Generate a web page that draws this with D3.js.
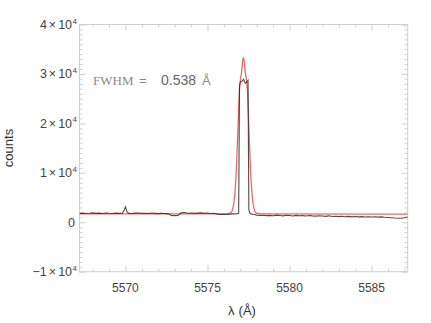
<!DOCTYPE html>
<html><head><meta charset="utf-8">
<script src="https://cdn.jsdelivr.net/npm/d3@7"></script>
<style>body{margin:0;background:#fff}svg{display:block}</style>
</head><body>
<script>
// ---- data ----
const obsLambda = [5567.2,5567.4,5567.6,5567.8,5568.0,5568.2,5568.4,5568.6,5568.8,5569.0,5569.2,5569.4,5569.6,5569.8,5569.9,5570.0,5570.1,5570.2,5570.4,5570.6,5570.8,5571.0,5571.2,5571.4,5571.6,5571.8,5572.0,5572.2,5572.4,5572.6,5572.8,5573.0,5573.2,5573.4,5573.6,5573.8,5574.0,5574.2,5574.4,5574.6,5574.8,5575.0,5575.2,5575.4,5575.6,5575.8,5576.0,5576.2,5576.4,5576.6,5576.8,5576.9,5576.95,5577.0,5577.1,5577.2,5577.3,5577.4,5577.47,5577.52,5577.6,5577.7,5577.8,5578.0,5578.2,5578.4,5578.6,5578.8,5579.0,5579.2,5579.4,5579.6,5579.8,5580.0,5580.2,5580.4,5580.6,5580.8,5581.0,5581.2,5581.4,5581.6,5581.8,5582.0,5582.2,5582.4,5582.6,5582.8,5583.0,5583.2,5583.4,5583.6,5583.8,5584.0,5584.2,5584.4,5584.6,5584.8,5585.0,5585.2,5585.4,5585.6,5585.8,5586.0,5586.2,5586.4,5586.6,5586.8,5587.0,5587.2];
const obsCounts = [1780,1850,1760,1820,1900,1790,1840,1760,1880,1810,1760,1850,1790,1820,2300,3100,2100,1800,1760,1850,1880,1790,1830,1770,1860,1800,1750,1830,1780,1700,1400,1350,1380,1900,1960,1830,1880,1790,1850,1900,1800,1860,1770,1820,1650,1600,1630,1580,1640,1700,1750,1800,27500,28400,28500,28900,28100,28400,28700,2500,1750,1650,1620,1450,1380,1420,1350,1400,1330,1450,1380,1300,1420,1360,1280,1400,1320,1350,1270,1380,1300,1240,1330,1260,1200,1300,1180,1230,1150,1200,1120,1180,1100,1160,1090,1130,1060,1120,1050,1100,1030,1080,1000,950,900,850,820,800,900,1050];
const fitLambda = [5567.2,5576.0,5576.2,5576.42,5576.55,5576.63,5576.75,5576.87,5576.95,5577.07,5577.19,5577.31,5577.43,5577.51,5577.63,5577.75,5577.83,5577.96,5578.2,5578.4,5587.2];
const fitCounts = [1700,1680,1720,1900,2900,4500,10000,20100,26800,30200,33400,30200,26800,20100,10000,4500,2900,1900,1720,1680,1650];
const xTicks = [5570,5575,5580,5585];
const yTickMantissa = [-1,0,1,2,3,4];
const fwhmLabel = "0.538";

// ---- layout ----
const W=431,H=323;
const L=79.5,R=407.7,T=24.5,B=271.7;
const svg=d3.select("body").append("svg").attr("width",W).attr("height",H);
const x=d3.scaleLinear().domain([5567.2,5587.2]).range([L,R]);
const y=d3.scaleLinear().domain([-1e4,4e4]).range([B,T]);
const frameCol="#cfcfcf", labCol="#444";

svg.append("clipPath").attr("id","c").append("rect").attr("x",L).attr("y",T).attr("width",R-L).attr("height",B-T);

// frame
svg.append("rect").attr("x",L).attr("y",T).attr("width",R-L).attr("height",B-T)
  .attr("fill","none").attr("stroke",frameCol).attr("stroke-width",1);

function ticks(axisFn, scale, vals, size, tx, ty){
  const g=svg.append("g").attr("transform",`translate(${tx},${ty})`)
    .call(axisFn(scale).tickValues(vals).tickSize(size).tickFormat(""));
  g.select(".domain").remove();
  g.selectAll("line").attr("stroke",frameCol);
}
const xMinor=d3.range(5568,5588,1).filter(v=>v%5!==0);
const yMinor=d3.range(-10000,40001,1000).filter(v=>v%10000!==0);
ticks(d3.axisTop,x,xTicks,6,0,B);
ticks(d3.axisTop,x,xMinor,3,0,B);
ticks(d3.axisBottom,x,xTicks,6,0,T);
ticks(d3.axisBottom,x,xMinor,3,0,T);
ticks(d3.axisRight,y,yTickMantissa.map(m=>m*1e4),6,L,0);
ticks(d3.axisRight,y,yMinor,3,L,0);
ticks(d3.axisLeft,y,yTickMantissa.map(m=>m*1e4),6,R,0);
ticks(d3.axisLeft,y,yMinor,3,R,0);

// x tick labels
svg.append("g").selectAll("text").data(xTicks).join("text")
  .attr("x",d=>x(d)).attr("y",292).attr("text-anchor","middle")
  .attr("font-family","Liberation Sans, Arial, sans-serif").attr("font-size",12)
  .attr("fill",labCol).text(d=>d);

// y tick labels
const yl=svg.append("g").attr("font-family","Liberation Sans, Arial, sans-serif").attr("font-size",12.5).attr("fill",labCol);
yTickMantissa.forEach(m=>{
  const t=yl.append("text").attr("x",m===0?75:77).attr("y",y(m*1e4)+4.5).attr("text-anchor","end");
  if(m===0){t.text("0");return;}
  t.append("tspan").text((m<0?"\u2212":"")+Math.abs(m));
  t.append("tspan").attr("dx",2).text("\u00d7");
  t.append("tspan").attr("dx",2).text("10");
  t.append("tspan").attr("dy",-5.5).attr("dx",0.5).attr("font-size",8).text("4");
});

// lines
const g=svg.append("g").attr("clip-path","url(#c)");
g.append("path").datum(d3.zip(fitLambda,fitCounts))
  .attr("d",d3.line().x(d=>x(d[0])).y(d=>y(d[1])).curve(d3.curveMonotoneX))
  .attr("fill","none").attr("stroke","#f04040").attr("stroke-opacity",0.8).attr("stroke-width",1.3);
g.append("path").datum(d3.zip(obsLambda,obsCounts))
  .attr("d",d3.line().x(d=>x(d[0])).y(d=>y(d[1])))
  .attr("fill","none").attr("stroke","#222").attr("stroke-opacity",0.8).attr("stroke-width",1.1);

// annotation
const ann=svg.append("text").attr("x",93).attr("y",85).attr("fill","#8a8a8a").attr("font-size",13);
ann.append("tspan").attr("font-family","Liberation Serif, Times New Roman, serif").text("FWHM");
ann.append("tspan").attr("x",139).attr("font-family","Liberation Sans, Arial, sans-serif").text("=");
ann.append("tspan").attr("x",161).attr("font-family","Liberation Sans, Arial, sans-serif").attr("font-size",14).attr("fill","#666").text(fwhmLabel);
ann.append("tspan").attr("x",202).attr("font-family","Liberation Sans, Arial, sans-serif").attr("font-size",13).text("Å");

// axis titles
const xt=svg.append("text").attr("x",242).attr("y",315).attr("text-anchor","middle")
  .attr("font-family","Liberation Sans, Arial, sans-serif").attr("font-size",13).attr("fill","#333");
xt.append("tspan").text("λ");
xt.append("tspan").attr("dx",4).text("(Å)");
svg.append("text").attr("transform","translate(13,148) rotate(-90)").attr("text-anchor","middle")
  .attr("font-family","Liberation Sans, Arial, sans-serif").attr("font-size",13).attr("fill","#333").text("counts");
</script>
</body></html>
